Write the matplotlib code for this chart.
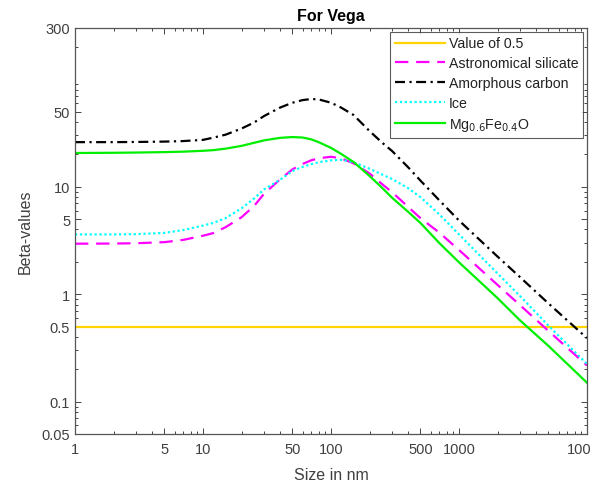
import matplotlib
matplotlib.use("Agg")
import matplotlib.pyplot as plt
from matplotlib.ticker import FixedLocator, LogLocator, NullFormatter

plt.rcParams['font.family'] = ['Liberation Sans', 'DejaVu Sans']

# Grain size (nm) at which the beta values were sampled
size_nm = [1, 2, 3, 5, 7, 10, 12, 15, 20, 25, 30, 40, 50, 60, 70, 80, 100, 120,
           150, 200, 250, 300, 400, 500, 700, 1000, 2000, 3000, 5000, 10000]

# Beta values for each material
beta_silicate = [2.95, 2.96, 2.98, 3.05, 3.2, 3.5, 3.7, 4.2, 5.2, 6.6, 8.6, 11.7, 14.5, 16.3, 17.6, 18.4,
                 19.0, 18.4, 16.5, 13.3, 10.6, 8.9, 6.5, 5.1, 3.75, 2.58, 1.22, 0.79, 0.455, 0.217]
beta_carbon = [26.0, 26.0, 26.1, 26.3, 26.6, 27.3, 28.6, 30.5, 34.8, 39.5, 45.5, 54.5, 60.5, 64.0, 65.5, 65.0,
               60.5, 54.5, 46.5, 33.0, 25.8, 21.5, 15.2, 11.4, 7.5, 4.85, 2.24, 1.44, 0.82, 0.39]
beta_ice = [3.6, 3.6, 3.62, 3.72, 3.95, 4.35, 4.6, 5.1, 6.3, 7.75, 9.45, 11.6, 14.0, 15.3, 16.2, 16.9,
            17.6, 17.8, 16.9, 14.7, 13.0, 11.8, 9.7, 8.0, 5.55, 3.6, 1.56, 0.96, 0.51, 0.224]
beta_mgfeo = [20.6, 20.7, 20.8, 21.0, 21.2, 21.6, 21.9, 22.6, 24.0, 25.6, 27.0, 28.5, 29.0, 28.7, 27.6, 26.0,
              23.0, 20.2, 17.0, 12.6, 9.8, 7.9, 5.85, 4.6, 3.0, 1.98, 0.92, 0.57, 0.33, 0.15]
beta_threshold = 0.5

x_ticks = [1, 5, 10, 50, 100, 500, 1000, 10000]
x_ticklabels = ['1', '5', '10', '50', '100', '500', '1000', '10000']
y_ticks = [0.05, 0.1, 0.5, 1, 5, 10, 50, 300]
y_ticklabels = ['0.05', '0.1', '0.5', '1', '5', '10', '50', '300']

axis_gray = '#262626'
label_gray = '#404040'

fig = plt.figure(figsize=(5.91, 4.89), dpi=100)
ax = fig.add_axes([75 / 591, 54 / 489, 512 / 591, 406 / 489])

lw = 1.6
ax.axhline(beta_threshold, color='#FFD400', lw=lw, label='Value of 0.5')
ax.plot(size_nm, beta_silicate, color='#FF00FF', lw=lw, linestyle=(0, (6, 3.5)),
        label='Astronomical silicate')
ax.plot(size_nm, beta_carbon, color='black', lw=lw, linestyle=(0, (4.5, 2, 1, 2)),
        label='Amorphous carbon')
ax.plot(size_nm, beta_ice, color='#00FFFF', lw=lw, linestyle=(0, (1, 1.2)),
        label='Ice')
ax.plot(size_nm, beta_mgfeo, color='#00EE00', lw=lw,
        label='Mg$_{0.6}$Fe$_{0.4}$O')

ax.set_xscale('log')
ax.set_yscale('log')
ax.set_xlim(1, 10000)
ax.set_ylim(0.05, 300)

ax.xaxis.set_major_locator(FixedLocator(x_ticks))
ax.set_xticklabels(x_ticklabels)
ax.yaxis.set_major_locator(FixedLocator(y_ticks))
ax.set_yticklabels(y_ticklabels)
for axis in (ax.xaxis, ax.yaxis):
    axis.set_minor_locator(LogLocator(base=10, subs=range(2, 10), numticks=20))
    axis.set_minor_formatter(NullFormatter())

ax.tick_params(which='both', direction='in', top=True, right=True,
               colors=axis_gray, labelcolor=label_gray, labelsize=10.5, width=0.6)
ax.tick_params(which='major', length=4)
ax.tick_params(which='minor', length=2.2)
ax.tick_params(axis='x', pad=6)
for s in ax.spines.values():
    s.set_color('#555555')
    s.set_linewidth(0.9)

ax.set_xlabel('Size in nm', fontsize=11.5, color=label_gray, labelpad=8)
ax.set_ylabel('Beta-values', fontsize=11.5, color=label_gray, labelpad=6)
ax.set_title('For Vega', fontsize=11.5, fontweight='bold', pad=6)

leg = ax.legend(loc='upper right', fontsize=10.2, frameon=True, fancybox=False,
                edgecolor='#333333', handlelength=3.5, handletextpad=0.3,
                borderpad=0.35, labelspacing=0.42, borderaxespad=0.25)
leg.get_frame().set_linewidth(0.8)
for t in leg.get_texts():
    t.set_color('#222222')

fig.savefig('out.png', dpi=100)
